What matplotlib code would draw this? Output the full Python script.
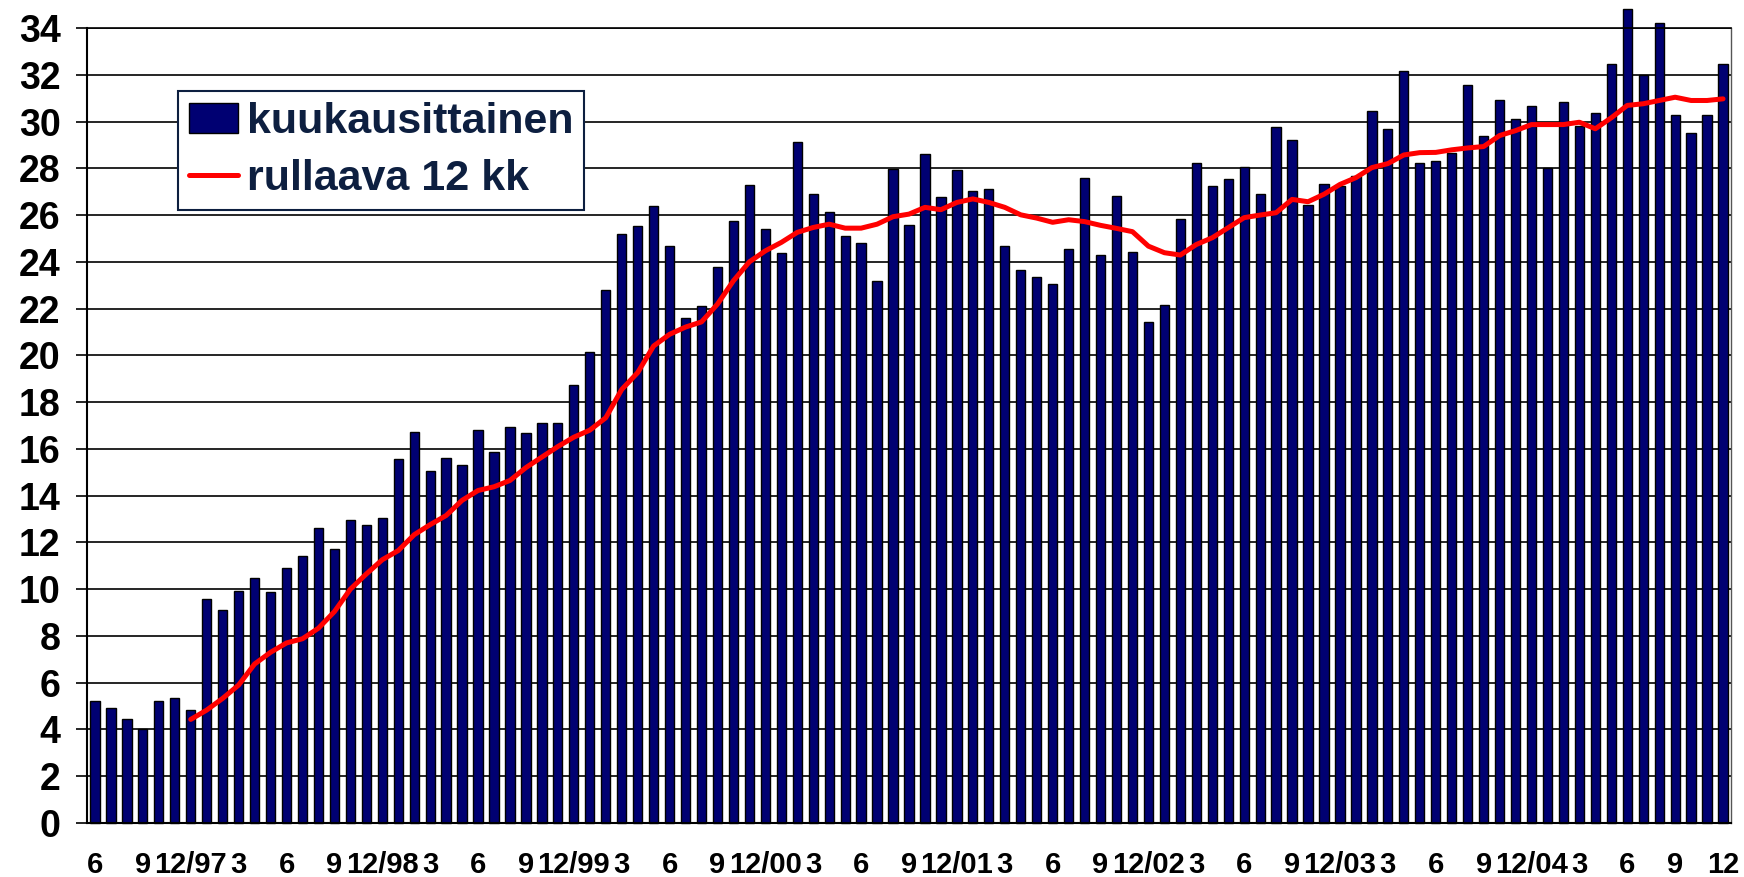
import numpy as np
import matplotlib
matplotlib.use("Agg")
import matplotlib.pyplot as plt

plt.rcParams['font.family'] = ['Liberation Sans', 'DejaVu Sans']
plt.rcParams['font.weight'] = 'bold'

# kuukausittaiset arvot 6/1997 - 12/2005
monthly = [5.2, 4.9, 4.45, 4.0, 5.2, 5.33, 4.83,
           9.56, 9.11, 9.93, 10.46, 9.87, 10.89, 11.41, 12.6, 11.7, 12.97, 12.74, 13.06,
           15.55, 16.73, 15.04, 15.61, 15.33, 16.8, 15.86, 16.94, 16.66, 17.11, 17.11, 18.73,
           20.13, 22.8, 25.19, 25.54, 26.37, 24.67, 21.61, 22.11, 23.76, 25.76, 27.28, 25.4,
           24.37, 29.11, 26.9, 26.14, 25.11, 24.81, 23.19, 27.97, 25.57, 28.59, 26.76, 27.93,
           27.04, 27.11, 24.67, 23.64, 23.33, 23.04, 24.53, 27.57, 24.3, 26.81, 24.44, 21.41,
           22.14, 25.84, 28.21, 27.24, 27.56, 28.07, 26.89, 29.77, 29.19, 26.44, 27.33, 27.24,
           27.67, 30.44, 29.7, 32.14, 28.22, 28.3, 28.66, 31.57, 29.36, 30.91, 30.1, 30.67,
           28.0, 30.83, 29.83, 30.37, 32.46, 34.8, 32.0, 34.23, 30.3, 29.5, 30.3, 32.46]

# rullaava 12 kk keskiarvo, alkaa 12/1997
rolling_12 = [4.43, 4.83, 5.33, 5.9, 6.8, 7.3, 7.7, 7.88, 8.33, 9.04, 10.0, 10.65, 11.26,
              11.65, 12.33, 12.76, 13.15, 13.8, 14.22, 14.38, 14.65, 15.2, 15.65, 16.1, 16.5,
              16.8, 17.33, 18.54, 19.26, 20.4, 20.9, 21.21, 21.43, 22.19, 23.19, 24.0, 24.47,
              24.83, 25.26, 25.47, 25.61, 25.44, 25.44, 25.61, 25.93, 26.04, 26.33, 26.23, 26.54,
              26.69, 26.54, 26.33, 26.01, 25.87, 25.69, 25.8, 25.72, 25.56, 25.43, 25.29, 24.67,
              24.39, 24.29, 24.74, 25.03, 25.46, 25.89, 26.0, 26.1, 26.67, 26.57, 26.89, 27.31,
              27.6, 28.03, 28.2, 28.57, 28.67, 28.68, 28.79, 28.87, 28.93, 29.4, 29.61, 29.87,
              29.87, 29.87, 29.97, 29.69, 30.16, 30.69, 30.76, 30.9, 31.04, 30.9, 30.9, 30.97]
rolling_start = 6

# x-akselin nimiöt joka kolmas kuukausi
tick_labels = ["6", "9", "12/97", "3", "6", "9", "12/98", "3", "6", "9", "12/99",
               "3", "6", "9", "12/00", "3", "6", "9", "12/01", "3", "6", "9", "12/02",
               "3", "6", "9", "12/03", "3", "6", "9", "12/04", "3", "6", "9", "12"]

x = np.arange(len(monthly))
x_roll = np.arange(rolling_start, rolling_start + len(rolling_12))

fig = plt.figure(figsize=(17.44, 8.77), dpi=100)
ax = fig.add_axes([87 / 1744, 54 / 877, 1644 / 1744, 795 / 877])

bars = ax.bar(x, monthly, width=0.58, color='#000072', edgecolor='black', linewidth=1.0,
              label='kuukausittainen', clip_on=False, zorder=2)
line, = ax.plot(x_roll, rolling_12, color='#ff0000', lw=3.6, label='rullaava 12 kk',
                zorder=3, solid_capstyle='round')

ax.set_xlim(-0.5, len(monthly) - 0.5)
ax.set_ylim(0, 34)
ax.set_yticks(np.arange(0, 35, 2))
ax.set_xticks(x[::3])
ax.set_xticklabels(tick_labels)

ax.grid(axis='y', color='black', lw=1.2)
ax.set_axisbelow(True)
ax.tick_params(axis='y', labelsize=27, length=8, width=1.2, pad=11)
ax.tick_params(axis='x', labelsize=21, length=0, pad=20)
for s in ['left', 'bottom']:
    ax.spines[s].set_linewidth(1.5)
ax.spines['top'].set_linewidth(1.2)
ax.spines['right'].set_linewidth(1.0)
ax.spines['right'].set_color('#555555')

leg = ax.legend([bars, line], ['kuukausittainen', 'rullaava 12 kk'],
                loc='upper left', bbox_to_anchor=(0.0554, 0.9208), borderaxespad=0,
                fontsize=31, fancybox=False, framealpha=1, edgecolor='#0d1f40',
                handlelength=1.15, handletextpad=0.2, labelspacing=0.4,
                borderpad=0.25)
leg.get_frame().set_linewidth(1.5)
for t in leg.get_texts():
    t.set_color('#0d1f40')

plt.savefig('out.png', dpi=100)
